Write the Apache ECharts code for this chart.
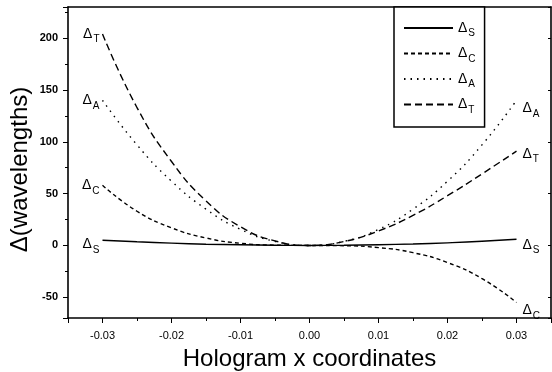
<!DOCTYPE html>
<html>
<head>
<meta charset="utf-8">
<script src="https://cdn.jsdelivr.net/npm/echarts@6/dist/echarts.min.js"></script>
<style>
  html, body { margin: 0; padding: 0; background: #fff; }
  #chart { width: 552px; height: 372px; }
</style>
</head>
<body>
<div id="chart"></div>
<script>
// hologram x coordinate samples
const xs = [-0.03, -0.025, -0.02, -0.015, -0.01, -0.005, 0, 0.005, 0.01, 0.015, 0.02, 0.025, 0.03]
// aberrations in wavelengths
const deltaS = [5, 3.5, 2.2, 1.2, 0.6, 0.2, 0, 0.2, 0.7, 1.4, 2.5, 4, 6]
const deltaC = [58, 33, 17, 7.2, 2.1, 0.3, 0, -0.3, -2.1, -7, -16.5, -32, -55]
const deltaA = [140, 97, 62, 35, 15.5, 3.9, 0, 3.9, 15.5, 35, 62, 97, 140]
const deltaT = [204, 133, 81, 43, 18, 4.4, 0, 3.8, 14, 29, 48, 69, 91]
const subs = ['S', 'C', 'A', 'T']
const seriesNames = ['ΔS', 'ΔC', 'ΔA', 'ΔT']

const font = '"Liberation Sans", Arial, sans-serif'
const richDelta = {
  d: { fontSize: 14, fontFamily: font, color: '#000' },
  s: { fontSize: 10, fontFamily: font, color: '#000', padding: [11, 0, 0, 1] }
}

const chart = echarts.init(document.getElementById('chart'))

// line data with a Δ label at both ends
const buildData = (values, sub, leftOff, rightOff) => {
  return xs.map((x, i) => {
    const item = { value: [x, values[i]] }
    if (i === 0 || i === xs.length - 1) {
      const isLeft = i === 0
      item.symbol = 'circle'
      item.symbolSize = 0.01
      item.label = {
        show: true,
        position: isLeft ? 'left' : 'right',
        distance: isLeft ? 3 : 6,
        offset: [0, isLeft ? leftOff : rightOff],
        formatter: '{d|Δ}{s|' + sub + '}',
        rich: richDelta
      }
    }
    return item
  })
}

const lineSeries = (name, values, sub, dash, leftOff, rightOff) => ({
  name: name,
  type: 'line',
  xAxisIndex: 0,
  yAxisIndex: 0,
  smooth: true,
  symbol: 'none',
  lineStyle: { color: '#000', width: 1.4, type: dash },
  itemStyle: { color: '#000' },
  label: { show: false, rich: richDelta },
  data: buildData(values, sub, leftOff, rightOff)
})

const axisBase = {
  axisLine: { show: true, onZero: false, lineStyle: { color: '#000', width: 1.6 } },
  splitLine: { show: false }
}

const option = {
  animation: false,
  backgroundColor: '#fff',
  grid: { left: 68, right: 1, top: 7, bottom: 54, outerBoundsMode: 'none' },
  legend: {
    data: seriesNames,
    orient: 'vertical',
    left: 394,
    top: 7,
    padding: [14, 9, 12, 9],
    itemWidth: 49,
    itemHeight: 14,
    itemGap: 8,
    borderColor: '#000',
    borderWidth: 1.5,
    borderRadius: 0,
    backgroundColor: '#fff',
    itemStyle: { opacity: 0, borderWidth: 0 },
    formatter: name => '{d|Δ}{s|' + name.slice(1) + '}',
    textStyle: { rich: richDelta }
  },
  xAxis: [
    {
      ...axisBase,
      type: 'value',
      min: -0.035,
      max: 0.035,
      minInterval: 0.01,
      maxInterval: 0.01,
      name: 'Hologram x coordinates',
      nameLocation: 'middle',
      nameGap: 29,
      nameTextStyle: { fontSize: 24, fontFamily: font, color: '#000' },
      axisTick: { show: true, length: 5, lineStyle: { color: '#000', width: 1 } },
      minorTick: { show: true, splitNumber: 2, length: 3, lineStyle: { color: '#000', width: 1 } },
      axisLabel: {
        margin: 12,
        fontSize: 11,
        fontFamily: font,
        color: '#000',
        formatter: v => Math.abs(v * 100 - Math.round(v * 100)) < 1e-6 ? v.toFixed(2) : ''
      }
    },
    {
      ...axisBase,
      type: 'value',
      position: 'top',
      min: -0.035,
      max: 0.035,
      axisTick: { show: false },
      axisLabel: { show: false }
    }
  ],
  yAxis: [
    {
      ...axisBase,
      type: 'value',
      min: -70,
      max: 230,
      minInterval: 50,
      maxInterval: 50,
      name: 'Δ(wavelengths)',
      nameLocation: 'middle',
      nameGap: 36,
      nameMoveOverlap: false,
      nameTextStyle: { fontSize: 24, fontFamily: font, color: '#000', padding: [0, 14, 0, 0] },
      axisTick: { show: true, length: 5, lineStyle: { color: '#000', width: 1 } },
      minorTick: { show: true, splitNumber: 2, length: 3, lineStyle: { color: '#000', width: 1 } },
      axisLabel: {
        margin: 10,
        fontSize: 11,
        fontWeight: 'bold',
        fontFamily: font,
        color: '#000',
        formatter: v => v % 50 === 0 ? String(v) : ''
      }
    },
    {
      ...axisBase,
      type: 'value',
      position: 'right',
      min: -70,
      max: 230,
      minInterval: 50,
      maxInterval: 50,
      axisTick: { show: true, inside: true, length: 3, lineStyle: { color: '#000', width: 1 } },
      axisLabel: { show: false }
    }
  ],
  series: [
    lineSeries(seriesNames[0], deltaS, subs[0], 'solid', 4, 6),
    lineSeries(seriesNames[1], deltaC, subs[1], [4, 3], 0, 8),
    lineSeries(seriesNames[2], deltaA, subs[2], [1.5, 5], 0, 8),
    lineSeries(seriesNames[3], deltaT, subs[3], [7, 4], 0, 3)
  ]
}

chart.setOption(option)
</script>
</body>
</html>
